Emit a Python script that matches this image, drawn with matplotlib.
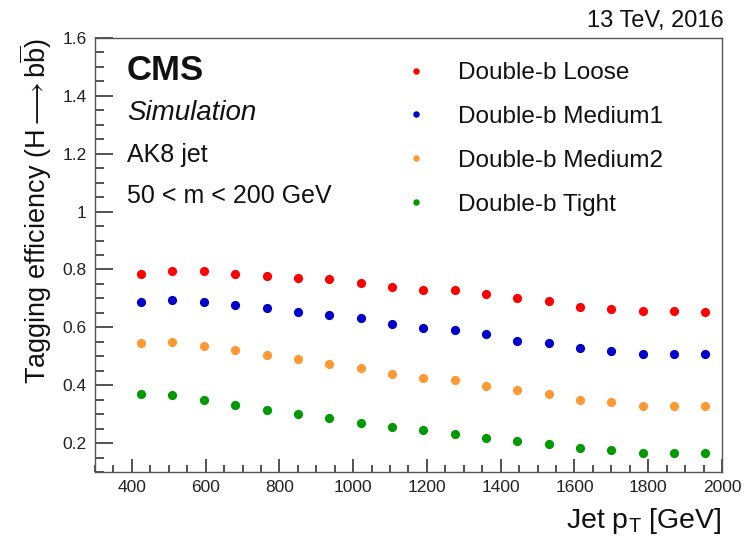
import matplotlib
matplotlib.use("Agg")
import matplotlib.pyplot as plt
from matplotlib.ticker import MultipleLocator
import numpy as np

plt.rcParams['font.family'] = ['Liberation Sans', 'DejaVu Sans']
plt.rcParams['mathtext.fontset'] = 'custom'
plt.rcParams['mathtext.rm'] = 'Liberation Sans'
plt.rcParams['mathtext.it'] = 'Liberation Sans:italic'
plt.rcParams['mathtext.bf'] = 'Liberation Sans:bold'

# Jet pT bin centres (GeV)
pt = [425, 510, 595, 680, 765, 850, 935, 1020, 1105, 1190,
      1275, 1360, 1445, 1530, 1615, 1700, 1785, 1870, 1955]

eff_loose = [0.784, 0.793, 0.793, 0.786, 0.778, 0.771, 0.766, 0.754, 0.738, 0.730,
             0.728, 0.716, 0.700, 0.690, 0.670, 0.663, 0.657, 0.657, 0.654]
eff_medium1 = [0.686, 0.694, 0.688, 0.676, 0.667, 0.654, 0.644, 0.632, 0.610, 0.597,
               0.591, 0.578, 0.554, 0.546, 0.529, 0.519, 0.508, 0.508, 0.508]
eff_medium2 = [0.546, 0.550, 0.537, 0.520, 0.505, 0.489, 0.474, 0.460, 0.440, 0.426,
               0.417, 0.397, 0.382, 0.370, 0.348, 0.343, 0.328, 0.328, 0.328]
eff_tight = [0.370, 0.366, 0.350, 0.330, 0.316, 0.301, 0.288, 0.270, 0.255, 0.245,
             0.231, 0.217, 0.206, 0.197, 0.182, 0.175, 0.166, 0.166, 0.166]

labels = ['Double-b Loose', 'Double-b Medium1', 'Double-b Medium2', 'Double-b Tight']
colors = ['#ff0000', '#0000cc', '#ff9933', '#009900']
series = [eff_loose, eff_medium1, eff_medium2, eff_tight]

fig = plt.figure(figsize=(7.44, 5.41), dpi=100)
ax = fig.add_axes([95/744, 1-472/541, (722-95)/744, (472-38)/541])

for y, c, lab in zip(series, colors, labels):
    ax.plot(pt, y, linestyle='none', marker='o', markersize=5.6,
            markerfacecolor=c, markeredgecolor=c, label=lab)

ax.set_xlim(300, 2000)
ax.set_ylim(0.1, 1.6)
ax.xaxis.set_major_locator(MultipleLocator(200))
ax.xaxis.set_minor_locator(MultipleLocator(50))
ax.yaxis.set_major_locator(MultipleLocator(0.2))
ax.yaxis.set_minor_locator(MultipleLocator(0.05))
ax.set_yticks([0.2, 0.4, 0.6, 0.8, 1.0, 1.2, 1.4, 1.6])
ax.set_yticklabels(['0.2', '0.4', '0.6', '0.8', '1', '1.2', '1.4', '1.6'])
ax.set_xticks([400, 600, 800, 1000, 1200, 1400, 1600, 1800, 2000])
ax.set_xticklabels(['400', '600', '800', '1000', '1200', '1400', '1600', '1800', '2000'])

ax.tick_params(axis='both', which='both', direction='in', colors='#333333',
               labelcolor='#222222', labelsize=12.5, width=1.2)
ax.tick_params(axis='y', which='major', length=13)
ax.tick_params(axis='y', which='minor', length=6.5)
ax.tick_params(axis='x', which='major', length=9.5)
ax.tick_params(axis='x', which='minor', length=5)
ax.tick_params(axis='x', which='both', pad=6)
ax.tick_params(axis='y', which='both', pad=6)
for s in ax.spines.values():
    s.set_color('#555555')
    s.set_linewidth(1.0)

ax.set_ylabel(r'Tagging efficiency (H$\longrightarrow$b$\overline{\mathrm{b}}$)',
              fontsize=19.5, loc='top', labelpad=6, color='#111111')
ax.set_xlabel(r'Jet p$_\mathrm{T}$ [GeV]', fontsize=20.5, loc='right', labelpad=8,
              color='#111111')

fig.text(127/744, 1-80/541, 'CMS', fontsize=25, fontweight='bold', ha='left',
         va='baseline', color='#111111')
fig.text(127/744, 1-120/541, 'Simulation', fontsize=20, style='italic', ha='left',
         va='baseline', color='#111111')
fig.text(127/744, 1-162/541, 'AK8 jet', fontsize=18, ha='left', va='baseline',
         color='#111111')
fig.text(127/744, 1-203/541, '50 < m < 200 GeV', fontsize=18, ha='left',
         va='baseline', color='#111111')
fig.text(724/744, 1-27/541, '13 TeV, 2016', fontsize=17, ha='right',
         va='baseline', color='#111111')

leg = ax.legend(loc='upper left', bbox_to_anchor=(401/744, 1-62/541),
                bbox_transform=fig.transFigure, frameon=False, fontsize=17.5,
                markerscale=0.65, handlelength=1.2, handletextpad=1.15,
                labelspacing=0.9, borderpad=0, borderaxespad=0)
for t in leg.get_texts():
    t.set_color('#111111')

fig.savefig('out.png', dpi=100)
